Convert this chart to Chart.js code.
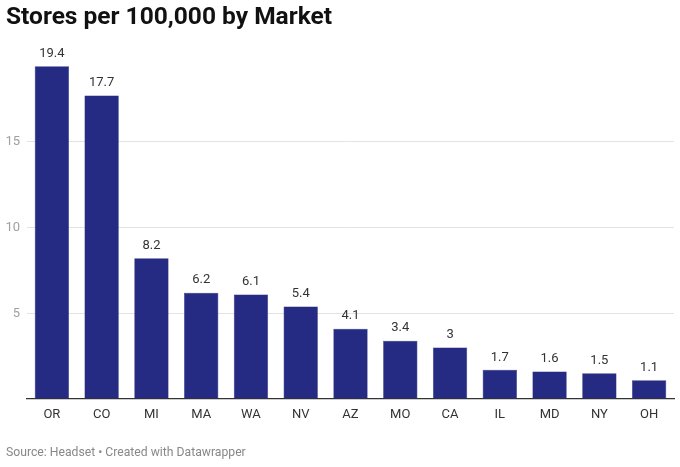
<!DOCTYPE html>
<html>
<head>
<meta charset="utf-8">
<script src="https://cdn.jsdelivr.net/npm/chart.js@4/dist/chart.umd.min.js"></script>
<style>
  html, body { margin: 0; padding: 0; background: #fff; }
  #wrap { position: relative; width: 680px; height: 467px; }
  #title { position: absolute; left: 6px; top: 1px; font: bold 24.5px Roboto, sans-serif; color: #111; }
  #footer { position: absolute; left: 6px; top: 445px; font: 12.2px Roboto, sans-serif; color: #888; }
  canvas { position: absolute; left: 0; top: 0; }
</style>
</head>
<body>
<div id="wrap">
  <canvas id="c" width="680" height="467"></canvas>
  <div id="title">Stores per 100,000 by Market</div>
  <div id="footer">Source: Headset • Created with Datawrapper</div>
</div>
<script>
const categories = ["OR","CO","MI","MA","WA","NV","AZ","MO","CA","IL","MD","NY","OH"];
const storesPer100k = [19.4,17.7,8.2,6.2,6.1,5.4,4.1,3.4,3,1.7,1.6,1.5,1.1];
const yTicks = [5,10,15];

const valueLabels = {
  id: 'valueLabels',
  afterDatasetsDraw(chart) {
    const ctx = chart.ctx;
    const meta = chart.getDatasetMeta(0);
    ctx.save();
    ctx.font = '13px Roboto, sans-serif';
    ctx.fillStyle = '#333';
    ctx.textAlign = 'center';
    ctx.textBaseline = 'bottom';
    meta.data.forEach((bar, i) => {
      ctx.fillText(String(storesPer100k[i]), bar.x, bar.y - 6);
    });
    ctx.restore();
  }
};

new Chart(document.getElementById('c'), {
  type: 'bar',
  data: {
    labels: categories,
    datasets: [{
      data: storesPer100k,
      backgroundColor: '#252a83',
      borderColor: '#1e2270',
      borderWidth: 0.5,
      barPercentage: 0.69,
      categoryPercentage: 1
    }]
  },
  options: {
    responsive: false,
    animation: false,
    devicePixelRatio: 1,
    layout: { padding: { top: 56, bottom: 38, left: 0, right: 6 } },
    plugins: { legend: { display: false }, tooltip: { enabled: false }, title: { display: false } },
    scales: {
      x: {
        grid: { display: false, drawTicks: false },
        border: { display: true, color: '#333', width: 1.3 },
        ticks: { color: '#333', font: { family: 'Roboto', size: 13 }, padding: 8, maxRotation: 0 },
        afterFit(s) { s.height = 30; }
      },
      y: {
        min: 0, max: 20,
        afterBuildTicks(s) { s.ticks = [0, ...yTicks, 20].map(v => ({ value: v })); },
        grid: {
          drawTicks: false,
          color: ctx => (ctx.tick && (ctx.tick.value === 0 || ctx.tick.value === 20)) ? 'rgba(0,0,0,0)' : '#e3e3e3',
          lineWidth: 1
        },
        border: { display: false },
        ticks: {
          color: '#a0a0a0',
          font: { family: 'Roboto', size: 13 },
          padding: 7,
          callback: v => yTicks.includes(v) ? String(v) : ''
        },
        afterFit(s) { s.width = 27; }
      }
    }
  },
  plugins: [valueLabels]
});
</script>
</body>
</html>
